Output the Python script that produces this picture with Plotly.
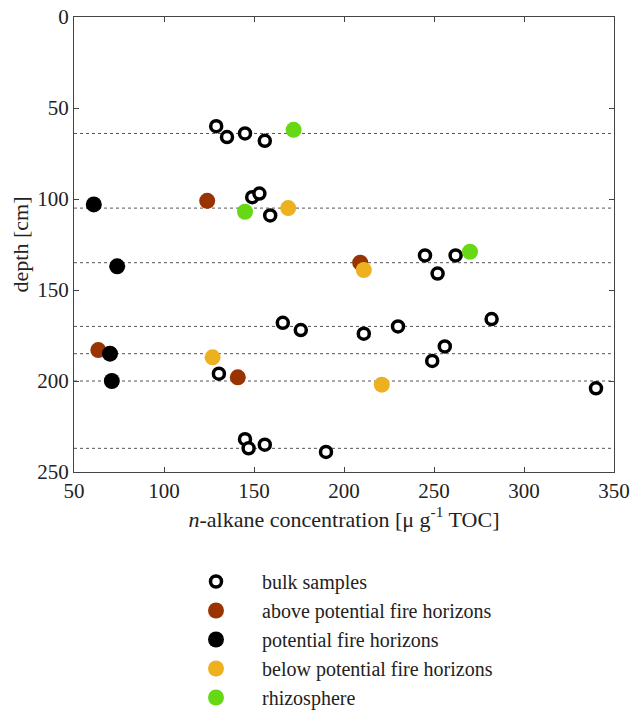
import plotly.graph_objects as go

# Data
bulk_x = [129, 135, 145, 156, 149, 153, 159, 245, 262, 252, 166, 176, 130.5, 145, 147, 156, 190, 211, 230, 282, 256, 249, 340]
bulk_y = [60, 66, 64, 68, 99, 97, 109, 131, 131, 141, 168, 172, 196, 232, 237, 235, 239, 174, 170, 166, 181, 189, 204]

above_x = [124, 209, 63.5, 141]
above_y = [101, 135, 183, 198]

fire_x = [61, 74, 70, 71]
fire_y = [103, 137, 185, 200]

below_x = [169, 211, 127, 221]
below_y = [105, 139, 187, 202]

rhizo_x = [172, 145, 270]
rhizo_y = [62, 107, 129]

horizon_depths = [64, 105, 135, 170, 185, 200, 237]

x_ticks = [50, 100, 150, 200, 250, 300, 350]
y_ticks = [0, 50, 100, 150, 200, 250]

FONT = "Times New Roman"
TXT = "#222222"

fig = go.Figure()

for d in horizon_depths:
    fig.add_shape(type="line", xref="paper", yref="y", x0=0, x1=1, y0=d, y1=d,
                  line=dict(color="#555555", width=1, dash="dot"), layer="below")

fig.add_trace(go.Scatter(x=bulk_x, y=bulk_y, mode="markers", name="bulk samples",
                         marker=dict(size=11, color="white", line=dict(color="black", width=3.5))))
fig.add_trace(go.Scatter(x=above_x, y=above_y, mode="markers", name="above potential fire horizons",
                         marker=dict(size=16, color="#993300")))
fig.add_trace(go.Scatter(x=fire_x, y=fire_y, mode="markers", name="potential fire horizons",
                         marker=dict(size=16, color="black")))
fig.add_trace(go.Scatter(x=below_x, y=below_y, mode="markers", name="below potential fire horizons",
                         marker=dict(size=16, color="#EDB120")))
fig.add_trace(go.Scatter(x=rhizo_x, y=rhizo_y, mode="markers", name="rhizosphere",
                         marker=dict(size=16, color="#66D914")))

axis_common = dict(showline=True, linecolor="#444444", linewidth=1.2, mirror="ticks",
                   ticks="inside", ticklen=5, tickcolor="#444444", showgrid=False,
                   zeroline=False, tickfont=dict(family=FONT, size=21, color=TXT))

fig.update_xaxes(range=[50, 350], tickvals=x_ticks,
                 title=dict(text="<i>n</i>-alkane concentration [μ g<sup>-1</sup> TOC]",
                            font=dict(family=FONT, size=22, color=TXT), standoff=6),
                 **axis_common)
fig.update_yaxes(range=[250, 0], tickvals=y_ticks,
                 title=dict(text="depth [cm]", font=dict(family=FONT, size=22, color=TXT), standoff=2),
                 **axis_common)

fig.update_layout(
    width=634, height=711,
    margin=dict(l=74, r=20, t=17, b=239, autoexpand=False),
    plot_bgcolor="white", paper_bgcolor="white",
    font=dict(family=FONT, size=22, color=TXT),
    legend=dict(x=(170 - 74) / 540, y=(472 - 562) / 455,
                xanchor="left", yanchor="top",
                font=dict(family=FONT, size=20, color=TXT),
                itemwidth=82, tracegroupgap=0, bgcolor="rgba(0,0,0,0)"),
    showlegend=True,
)

fig.write_html("out.html")
